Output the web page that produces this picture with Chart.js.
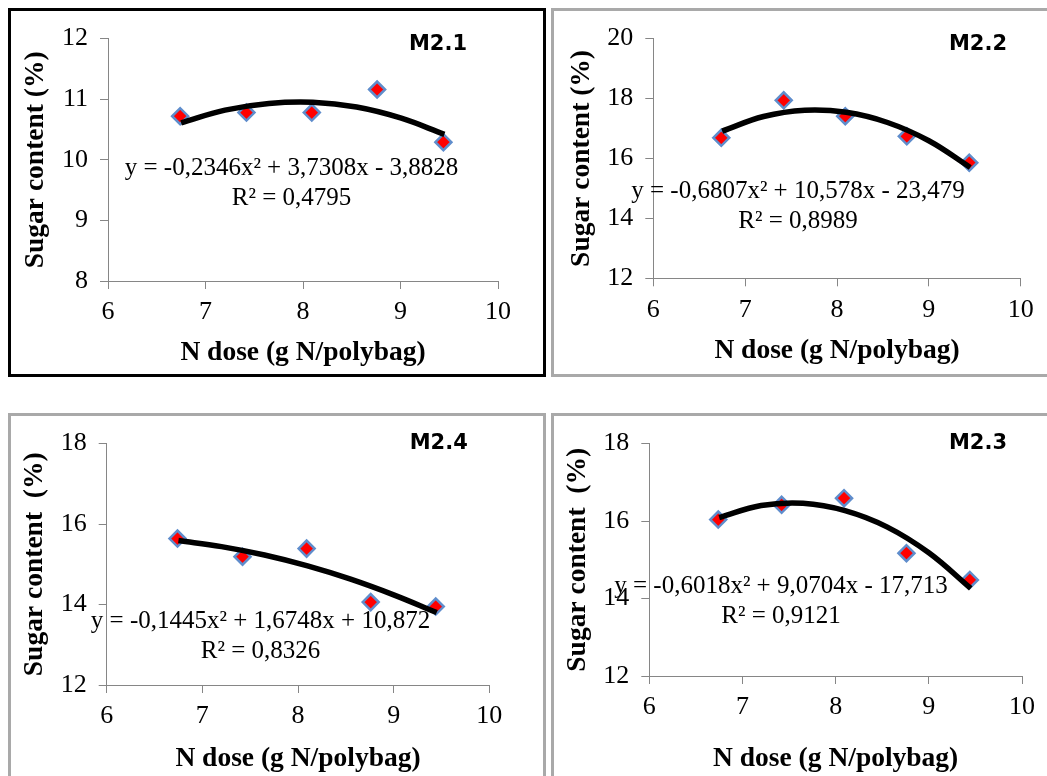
<!DOCTYPE html>
<html>
<head>
<meta charset="utf-8">
<script src="https://cdn.jsdelivr.net/npm/chart.js@4.4.1/dist/chart.umd.min.js"></script>
<style>
  html, body { margin: 0; padding: 0; background: #fff; }
  body { width: 1047px; height: 776px; position: relative; overflow: hidden; }
  canvas { position: absolute; }
  .frame { position: absolute; box-sizing: border-box; border: 3px solid #a9a9a9; pointer-events: none; }
</style>
</head>
<body>
<canvas id="m21" width="532" height="363" style="left:11px;top:11px"></canvas>
<canvas id="m22" width="493" height="363" style="left:554px;top:11px"></canvas>
<canvas id="m24" width="532" height="360" style="left:11px;top:416px"></canvas>
<canvas id="m23" width="493" height="360" style="left:554px;top:416px"></canvas>
<div class="frame" style="left:8px;top:8px;width:538px;height:369px;border-color:#000"></div>
<div class="frame" style="left:551px;top:8px;width:510px;height:369px"></div>
<div class="frame" style="left:8px;top:413px;width:538px;height:380px"></div>
<div class="frame" style="left:551px;top:413px;width:510px;height:380px"></div>
<script>
// N dose (g N/polybag), same five doses in every panel
const nDose = [6.74, 7.42, 8.09, 8.76, 9.44];

// sugar content (%) per medium
const sugarM21 = [10.72, 10.78, 10.78, 11.16, 10.29];
const sugarM22 = [16.69, 17.94, 17.41, 16.74, 15.86];
const sugarM24 = [15.64, 15.19, 15.39, 14.06, 13.95];
const sugarM23 = [16.04, 16.42, 16.59, 15.17, 14.48];

// polynomial trend lines
const trendDose = [6.75, 7.2, 7.65, 8.1, 8.55, 9.0, 9.45];
const trendM21 = [10.61, 10.82, 10.93, 10.95, 10.87, 10.69, 10.42];
const trendM22 = [16.91, 17.40, 17.61, 17.54, 17.20, 16.59, 15.70];
const trendM24 = [15.59, 15.44, 15.23, 14.96, 14.63, 14.24, 13.80];
const trendM23 = [16.09, 16.40, 16.46, 16.27, 15.85, 15.18, 14.26];

// axis ticks
const xTicks = [6, 7, 8, 9, 10];
const yTicksM21 = [8, 9, 10, 11, 12];
const yTicksM22 = [12, 14, 16, 18, 20];
const yTicksM24 = [12, 14, 16, 18];
const yTicksM23 = [12, 14, 16, 18];

const serif = "'Liberation Serif', 'Times New Roman', serif";
const axisGrey = '#868686';

function textPlugin(items) {
  return {
    id: 'panelText',
    afterDraw(chart) {
      const ctx = chart.ctx;
      ctx.save();
      ctx.fillStyle = '#000';
      ctx.textAlign = 'center';
      ctx.textBaseline = 'alphabetic';
      items.forEach(function (it) {
        ctx.font = it.font;
        ctx.fillText(it.text, it.x, it.y);
      });
      ctx.restore();
    }
  };
}

// box = canvas rect on page, area = wanted plot area on page
function makePanel(id, box, area, yTitle, yTicks, sugar, trend, label, eq, r2) {
  const pl = 2, pb = 2, lh = 28;
  const yWidth = area.l - box.x - pl;
  const xHeight = box.y + box.h - pb - area.b;
  const yTitlePad = (area.l - 71.5 - box.x) - pl - lh / 2;
  const xTitlePad = (box.h - pb) - lh / 2 - (area.xTitle - box.y);

  const points = nDose.map((x, i) => ({ x: x, y: sugar[i] }));
  const curve = trendDose.map((x, i) => ({ x: x, y: trend[i] }));

  const eqFont = '25px ' + serif;
  const notes = [
    { text: label, x: area.labelX - box.x, y: area.labelY - box.y, font: 'bold 21px "DejaVu Sans", Verdana, sans-serif' },
    { text: eq, x: area.eqX - box.x, y: area.eqY - box.y, font: eqFont },
    { text: r2, x: area.eqX - box.x, y: area.eqY + 29.5 - box.y, font: eqFont }
  ];

  const config = {
    type: 'scatter',
    data: {
      datasets: [
        {
          label: 'trend',
          data: curve,
          showLine: true,
          borderColor: '#000',
          borderWidth: 5.5,
          tension: 0.4,
          pointRadius: 0,
          order: 0
        },
        {
          label: label,
          data: points,
          pointStyle: 'rectRot',
          pointRadius: 8,
          backgroundColor: '#ff0000',
          borderColor: '#5f8dcc',
          borderWidth: 2.5,
          order: 1
        }
      ]
    },
    options: {
      responsive: false,
      animation: false,
      devicePixelRatio: 1,
      layout: {
        padding: { left: pl, bottom: pb, top: area.t - box.y, right: box.x + box.w - area.r }
      },
      plugins: { legend: { display: false }, tooltip: { enabled: false } },
      scales: {
        x: {
          type: 'linear',
          min: xTicks[0],
          max: xTicks[xTicks.length - 1],
          afterFit(scale) { scale.height = xHeight; },
          ticks: { stepSize: 1, color: '#000', padding: 8, font: { family: serif, size: 26, lineHeight: 1.2 } },
          grid: { drawOnChartArea: false, drawTicks: true, tickLength: 8, color: axisGrey },
          border: { color: axisGrey },
          title: {
            display: true,
            text: 'N dose (g N/polybag)',
            color: '#000',
            padding: { top: 0, bottom: xTitlePad },
            font: { family: serif, size: 27.5, weight: 'bold', lineHeight: 1 }
          }
        },
        y: {
          type: 'linear',
          min: yTicks[0],
          max: yTicks[yTicks.length - 1],
          afterFit(scale) { scale.width = yWidth; },
          ticks: { stepSize: yTicks[1] - yTicks[0], color: '#000', padding: 12, font: { family: serif, size: 26 } },
          grid: { drawOnChartArea: false, drawTicks: true, tickLength: 8, color: axisGrey },
          border: { color: axisGrey },
          title: {
            display: true,
            text: yTitle,
            color: '#000',
            padding: { top: yTitlePad, bottom: 0 },
            font: { family: serif, size: 27.5, weight: 'bold', lineHeight: 1 }
          }
        }
      }
    },
    plugins: [textPlugin(notes)]
  };

  return new Chart(document.getElementById(id), config);
}

makePanel('m21', { x: 11, y: 11, w: 532, h: 363 },
  { l: 108, r: 498, t: 29, b: 281, xTitle: 353, labelX: 438, labelY: 49.5, eqX: 291.5, eqY: 175 },
  'Sugar content (%)', yTicksM21, sugarM21, trendM21,
  'M2.1', 'y = -0,2346x² + 3,7308x - 3,8828', 'R² = 0,4795');

makePanel('m22', { x: 554, y: 11, w: 493, h: 363 },
  { l: 653.3, r: 1020.7, t: 36.7, b: 278.3, xTitle: 351, labelX: 978, labelY: 49.5, eqX: 798, eqY: 198.3 },
  'Sugar content (%)', yTicksM22, sugarM22, trendM22,
  'M2.2', 'y = -0,6807x² + 10,578x - 23,479', 'R² = 0,8989');

makePanel('m24', { x: 11, y: 416, w: 532, h: 360 },
  { l: 106.7, r: 489.3, t: 439.3, b: 685, xTitle: 758.5, labelX: 438.7, labelY: 449, eqX: 260.5, eqY: 628.3 },
  'Sugar content  (%)', yTicksM24, sugarM24, trendM24,
  'M2.4', 'y = -0,1445x² + 1,6748x + 10,872', 'R² = 0,8326');

makePanel('m23', { x: 554, y: 416, w: 493, h: 360 },
  { l: 649.3, r: 1022, t: 439.3, b: 676, xTitle: 758.5, labelX: 978, labelY: 449, eqX: 781, eqY: 593.3 },
  'Sugar content  (%)', yTicksM23, sugarM23, trendM23,
  'M2.3', 'y = -0,6018x² + 9,0704x - 17,713', 'R² = 0,9121');
</script>
</body>
</html>
